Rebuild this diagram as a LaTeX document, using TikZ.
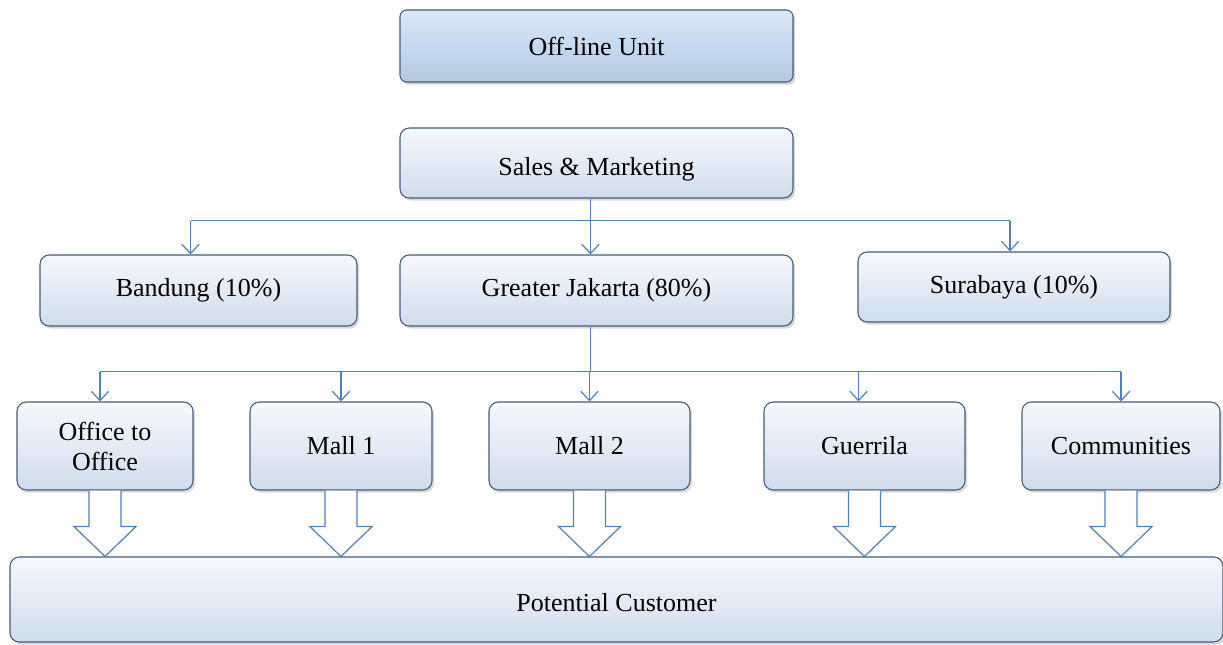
\documentclass[tikz,border=0pt]{standalone}
\usepackage{fontspec}
\setmainfont{Liberation Serif}
\usetikzlibrary{shadows,calc,arrows.meta}

\definecolor{connblue}{RGB}{79,129,189}
\definecolor{boxedge}{RGB}{70,92,122}
\definecolor{boxtop}{RGB}{246,249,253}
\definecolor{boxbottom}{RGB}{208,220,236}
\definecolor{unitfill}{RGB}{197,217,240}

\tikzset{
  unitbox/.style={draw=boxedge, line width=0.8pt, rounded corners=5pt,
    top color=unitfill!60!white, bottom color=unitfill!92!black,
    middle color=unitfill, align=center,
    drop shadow={opacity=0.35, shadow xshift=1.5pt, shadow yshift=-2pt},
    font=\fontsize{19.5}{22.5}\selectfont},
  orgbox/.style={draw=boxedge, line width=0.8pt, rounded corners=7pt,
    top color=boxtop, bottom color=boxbottom, align=center,
    drop shadow={opacity=0.3, shadow xshift=1.5pt, shadow yshift=-2pt},
    font=\fontsize{19.5}{22.5}\selectfont},
  lowtext/.style={text height=22pt, text depth=4pt},
  conn/.style={draw=connblue, line width=0.9pt},
  tip/.style={-{Straight Barb[length=7pt,width=13pt,line width=0.9pt]}},
  blockarrow/.style={draw=connblue, line width=0.9pt, fill=white}
}

\begin{document}
\begin{tikzpicture}[x=0.75pt,y=0.75pt,yscale=-1,xscale=1]
\useasboundingbox (0,0) rectangle (1223,644);

% Top units
\node[unitbox, minimum width=294.75pt, minimum height=54pt] (unit) at (596.5,46) {Off-line Unit};
\node[orgbox, lowtext, minimum width=294.75pt, minimum height=52.5pt] (sales) at (596.5,163) {Sales \& Marketing};

% Regions
\node[orgbox, minimum width=237.75pt, minimum height=53.25pt] (bandung) at (198.5,290.5) {Bandung (10\%)};
\node[orgbox, minimum width=294.75pt, minimum height=53.25pt] (jakarta) at (596.5,290.5) {Greater Jakarta (80\%)};
\node[orgbox, minimum width=234pt, minimum height=52.5pt] (surabaya) at (1014,287) {Surabaya (10\%)};

% Channels
\node[orgbox, minimum width=132pt, minimum height=66pt] (office) at (105,446) {Office to\\Office};
\node[orgbox, minimum width=136.5pt, minimum height=66pt] (mallone) at (341,446) {Mall 1};
\node[orgbox, minimum width=150.75pt, minimum height=66pt] (malltwo) at (589.5,446) {Mall 2};
\node[orgbox, minimum width=150.75pt, minimum height=66pt] (guerrila) at (864.5,446) {Guerrila};
\node[orgbox, minimum width=148.5pt, minimum height=66pt] (community) at (1121,446) {Communities};

% Customer
\node[orgbox, lowtext, minimum width=909.75pt, minimum height=63.75pt] (customer) at (616.5,599.5) {Potential Customer};

% Connectors
\coordinate (salesbus) at ($(sales.south)+(-6,22)$);
\draw[conn] ($(sales.south)+(-6,0)$) -- (salesbus);
\draw[conn] ($(salesbus -| bandung.north)+(-8,0)$) -- ($(salesbus -| surabaya.north)+(-4,0)$);
\draw[conn,tip] ($(salesbus -| bandung.north)+(-8,0)$) -- ($(bandung.north)+(-8,0)$);
\draw[conn,tip] (salesbus) -- (salesbus |- jakarta.north);
\draw[conn,tip] ($(salesbus -| surabaya.north)+(-4,0)$) -- ($(surabaya.north)+(-4,0)$);

\coordinate (jakbus) at ($(jakarta.south)+(-6,45)$);
\draw[conn] ($(jakarta.south)+(-6,0)$) -- (jakbus);
\draw[conn] ($(jakbus -| office.north)+(-5,0)$) -- (jakbus -| community.north);
\foreach \n/\dx in {office/-5,mallone/0,malltwo/0,guerrila/-6,community/0}
  \draw[conn,tip] ($(jakbus -| \n.north)+(\dx,0)$) -- ($(\n.north)+(\dx,0)$);

% Block arrows
\foreach \n in {office,mallone,malltwo,guerrila,community}
  \draw[blockarrow] ($(\n.south)+(-16,0)$) -- ++(0,36) -- ++(-15,0)
    -- ($(\n.south |- customer.north)$) -- ($(\n.south)+(31,36)$)
    -- ++(-15,0) -- ($(\n.south)+(16,0)$);

\end{tikzpicture}
\end{document}
